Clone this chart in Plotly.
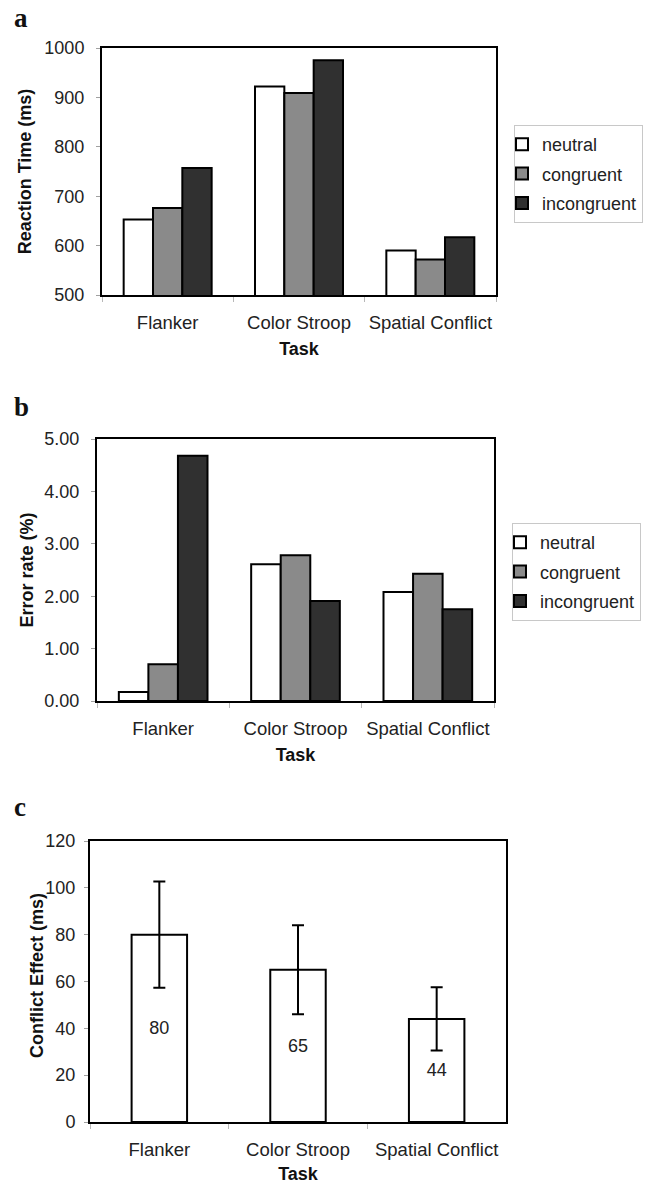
import plotly.graph_objects as go

# categories and series
tasks = ["Flanker", "Color Stroop", "Spatial Conflict"]
conditions = ["neutral", "congruent", "incongruent"]
condition_colors = ["#ffffff", "#8a8a8a", "#303030"]

rt_neutral = [653, 922, 590]
rt_congruent = [676, 909, 572]
rt_incongruent = [757, 975, 617]

err_neutral = [0.17, 2.61, 2.08]
err_congruent = [0.70, 2.78, 2.43]
err_incongruent = [4.68, 1.91, 1.75]

conflict_effect = [80, 65, 44]
conflict_error = [22.7, 19.0, 13.5]

W, H = 650, 1184
FONT = "Liberation Sans, Arial, sans-serif"
TITLE_FONT = dict(size=18, weight="bold", color="#111")


def _xdom(left, right):
    return [left / W, right / W]


def _ydom(top, bottom):
    return [1 - bottom / H, 1 - top / H]


def _xaxis(domain, anchor, standoff):
    return dict(
        domain=domain,
        anchor=anchor,
        automargin=False,
        type="category",
        showline=True,
        linecolor="black",
        linewidth=2,
        mirror=True,
        ticks="outside",
        tickson="boundaries",
        ticklen=5,
        tickcolor="#b8b8b8",
        tickangle=0,
        tickfont=dict(size=18.5, color="#222"),
        ticklabelstandoff=10,
        showgrid=False,
        zeroline=False,
        title=dict(text="Task", font=TITLE_FONT, standoff=standoff),
    )


def _yaxis(domain, anchor, title, rng, dtick, fmt=None, standoff=8, label_gap=8):
    axis = dict(
        domain=domain,
        anchor=anchor,
        automargin=False,
        range=rng,
        dtick=dtick,
        showline=True,
        linecolor="black",
        linewidth=2,
        mirror=True,
        ticks="outside",
        ticklen=4,
        tickcolor="#a0a0a0",
        tickfont=dict(size=18, color="#222"),
        ticklabelstandoff=label_gap,
        showgrid=False,
        zeroline=False,
    )
    if title:
        axis["title"] = dict(text=title, font=TITLE_FONT, standoff=standoff)
    if fmt:
        axis["tickformat"] = fmt
    return axis


fig = go.Figure()

# panel a: reaction times
for name, color, values in zip(conditions, condition_colors, [rt_neutral, rt_congruent, rt_incongruent]):
    fig.add_trace(
        go.Bar(
            x=tasks,
            y=values,
            name=name,
            legendgroup="a_" + name,
            marker=dict(color=color, line=dict(color="black", width=2)),
            xaxis="x",
            yaxis="y",
            legend="legend",
        )
    )

# panel b: error rates
for name, color, values in zip(conditions, condition_colors, [err_neutral, err_congruent, err_incongruent]):
    fig.add_trace(
        go.Bar(
            x=tasks,
            y=values,
            name=name,
            legendgroup="b_" + name,
            marker=dict(color=color, line=dict(color="black", width=2)),
            xaxis="x2",
            yaxis="y2",
            legend="legend2",
        )
    )

# panel c: conflict effect
fig.add_trace(
    go.Bar(
        x=tasks,
        y=conflict_effect,
        width=0.4,
        text=[str(v) for v in conflict_effect],
        textposition="inside",
        insidetextanchor="middle",
        textangle=0,
        textfont=dict(size=18, color="#222"),
        marker=dict(color="white", line=dict(color="black", width=2)),
        error_y=dict(type="data", array=conflict_error, color="black", thickness=2, width=6),
        xaxis="x3",
        yaxis="y3",
        showlegend=False,
    )
)

legend_style = dict(
    xanchor="left",
    yanchor="top",
    bordercolor="#c8c8c8",
    borderwidth=1,
    bgcolor="white",
    font=dict(size=18, color="#222"),
    indentation=-13,
    tracegroupgap=3,
    traceorder="grouped",
)

panel_labels = [
    dict(
        text=label,
        x=12 / W,
        y=1 - ypos / H,
        xref="paper",
        yref="paper",
        xanchor="left",
        yanchor="middle",
        showarrow=False,
        font=dict(family="Liberation Serif, Times New Roman, serif", size=27, weight="bold", color="#111"),
    )
    for label, ypos in [("a", 18), ("b", 407), ("c", 807)]
]

# panel c's y title sits closer to the tick labels than plotly's standoff allows
conflict_title = dict(
    text="Conflict Effect (ms)",
    x=37 / W,
    y=1 - 976 / H,
    xref="paper",
    yref="paper",
    xanchor="center",
    yanchor="middle",
    textangle=-90,
    showarrow=False,
    font=TITLE_FONT,
)

fig.update_layout(
    template="none",
    width=W,
    height=H,
    margin=dict(l=0, r=0, t=0, b=0),
    paper_bgcolor="white",
    plot_bgcolor="white",
    font=dict(family=FONT, color="#222"),
    barmode="group",
    bargap=0.33,
    bargroupgap=0,
    xaxis=_xaxis(_xdom(102, 496), "y", 10),
    yaxis=_yaxis(_ydom(48, 295), "x", "Reaction Time (ms)", [500, 1000], 100, standoff=8),
    xaxis2=_xaxis(_xdom(97, 494), "y2", 10),
    yaxis2=_yaxis(_ydom(439, 701), "x2", "Error rate (%)", [0, 5], 1, ".2f", standoff=6),
    xaxis3=_xaxis(_xdom(90, 506), "y3", 10),
    yaxis3=_yaxis(_ydom(841, 1122), "x3", None, [0, 120], 20, label_gap=5),
    legend=dict(x=514 / W, y=1 - 125 / H, **legend_style),
    legend2=dict(x=512 / W, y=1 - 523 / H, **legend_style),
    annotations=panel_labels + [conflict_title],
)

# the page body keeps the browser's default margin otherwise
fig.write_html(
    "out.html",
    config={"displayModeBar": False},
    post_script="document.body.style.margin='0';document.body.style.overflow='hidden';",
)
